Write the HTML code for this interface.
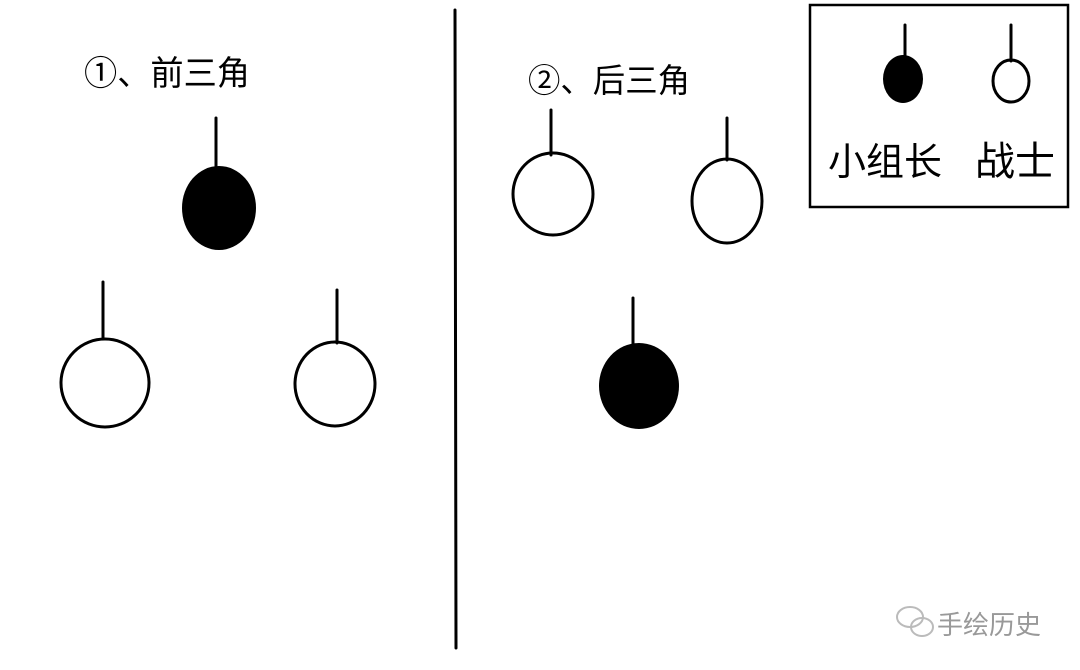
<!DOCTYPE html>
<html><head><meta charset="utf-8"><style>
html,body{margin:0;padding:0;background:#fff;width:1080px;height:670px;overflow:hidden}
svg{display:block}
text{font-family:"Liberation Sans","Noto Sans CJK SC",sans-serif}
</style></head><body>
<svg width="1080" height="670" viewBox="0 0 1080 670">
<g stroke="#000" stroke-width="3" fill="none" stroke-linecap="round">
<line x1="455" y1="10" x2="456" y2="648"/>
<line x1="216" y1="118" x2="216" y2="166"/>
<line x1="103" y1="282" x2="103" y2="338"/>
<line x1="337" y1="290" x2="337" y2="343"/>
<line x1="551" y1="110" x2="551" y2="155"/>
<line x1="727" y1="118" x2="727" y2="160"/>
<line x1="633" y1="298" x2="633" y2="345"/>
<ellipse cx="105" cy="383" rx="44" ry="44"/>
<ellipse cx="335" cy="384" rx="40" ry="42"/>
<ellipse cx="553" cy="194" rx="40" ry="41"/>
<ellipse cx="727" cy="201" rx="35" ry="42"/>
<rect x="810" y="5" width="258" height="202" stroke-width="2.5"/>
<line x1="905" y1="25" x2="905" y2="56"/>
<line x1="1011" y1="25" x2="1011" y2="61"/>
<ellipse cx="1011" cy="81" rx="18" ry="21"/>
</g>
<ellipse cx="219" cy="208" rx="37" ry="42" fill="#000"/>
<ellipse cx="639" cy="386" rx="40" ry="43" fill="#000"/>
<ellipse cx="903" cy="79" rx="20" ry="24" fill="#000"/>
<text x="84" y="85" font-size="34" textLength="166" lengthAdjust="spacingAndGlyphs">①、前三角</text>
<text x="528" y="92" font-size="33" textLength="162" lengthAdjust="spacingAndGlyphs">②、后三角</text>
<text x="828" y="175" font-size="38">小组长</text>
<text x="975" y="175" font-size="40">战士</text>
<g fill="none" stroke="#bbb" stroke-width="2">
<ellipse cx="910" cy="617" rx="13" ry="10"/>
<ellipse cx="922" cy="627" rx="11" ry="9"/>
</g>
<text x="937" y="634" font-size="26" fill="#999">手绘历史</text>
</svg>
</body></html>
